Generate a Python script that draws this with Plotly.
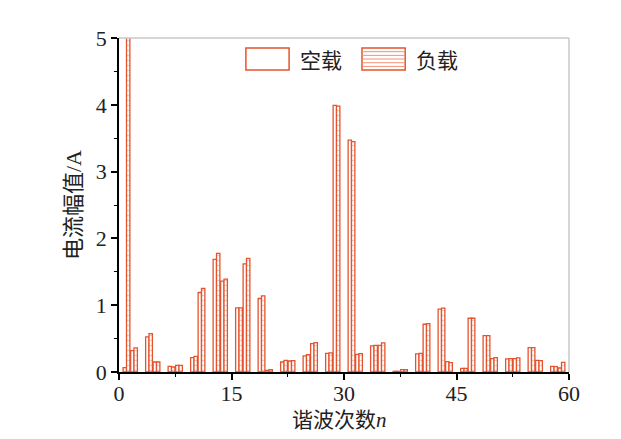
import plotly.graph_objects as go

harmonic_order = [1, 2, 4, 5, 7, 8, 10, 11, 13, 14, 16, 17, 19, 20, 22, 23, 25, 26, 28, 29,
                  31, 32, 34, 35, 37, 38, 40, 41, 43, 44, 46, 47, 49, 50, 52, 53, 55, 56, 58, 59]

no_load = [0.065, 0.32, 0.525, 0.15, 0.085, 0.10, 0.215, 1.19, 1.685, 1.36, 0.96, 1.62, 1.10, 0.025,
           0.15, 0.165, 0.24, 0.425, 0.28, 3.99, 3.47, 0.265, 0.39, 0.40, 0.01, 0.035, 0.27, 0.715,
           0.94, 0.155, 0.055, 0.805, 0.545, 0.20, 0.195, 0.20, 0.365, 0.175, 0.085, 0.06]

with_load = [5.5, 0.36, 0.575, 0.15, 0.075, 0.10, 0.235, 1.25, 1.775, 1.39, 0.96, 1.70, 1.14, 0.035,
             0.175, 0.17, 0.26, 0.44, 0.285, 3.98, 3.45, 0.275, 0.40, 0.435, 0.01, 0.035, 0.28, 0.725,
             0.955, 0.14, 0.055, 0.805, 0.545, 0.215, 0.20, 0.21, 0.365, 0.17, 0.08, 0.145]

series_names = ["空载", "负载"]
x_ticks = [0, 15, 30, 45, 60]
y_ticks = [0, 1, 2, 3, 4, 5]

RED = "#E5532D"
LIGHT = "#F29275"
FONT = "Liberation Serif, Noto Sans CJK SC, serif"
CJK = "Noto Sans CJK SC, sans-serif"
TXT = "#222"

fig = go.Figure()
fig.add_trace(go.Bar(
    x=harmonic_order, y=no_load, name=series_names[0], showlegend=False,
    marker=dict(color="white", line=dict(color=RED, width=1.3)),
))
fig.add_trace(go.Bar(
    x=harmonic_order, y=with_load, name=series_names[1], showlegend=False,
    marker=dict(color="white", line=dict(color=RED, width=1.3),
                pattern=dict(shape="-", fgcolor=LIGHT, bgcolor="white", size=5, solidity=0.25)),
))

# legend drawn as swatches + text (large swatches as in the reference)
shapes = [
    dict(type="line", xref="paper", yref="paper", x0=0, x1=1, y0=1, y1=1,
         line=dict(color="#C8C8C8", width=1.5)),
    dict(type="line", xref="paper", yref="paper", x0=1, x1=1, y0=0, y1=1,
         line=dict(color="#C8C8C8", width=1.5)),
]
sw_y0, sw_y1 = 0.904, 0.970
swatches = [(0.282, 0.378), (0.540, 0.636)]
for i, (x0, x1) in enumerate(swatches):
    shapes.append(dict(type="rect", xref="paper", yref="paper", x0=x0, x1=x1, y0=sw_y0, y1=sw_y1,
                       line=dict(color=RED, width=1.5), fillcolor="white"))
    if i == 1:
        for k in range(1, 6):
            yy = sw_y0 + (sw_y1 - sw_y0) * k / 6
            shapes.append(dict(type="line", xref="paper", yref="paper", x0=x0, x1=x1, y0=yy, y1=yy,
                               line=dict(color=LIGHT, width=1)))

annotations = [
    dict(text=series_names[0], xref="paper", yref="paper", x=0.397, y=0.937,
         xanchor="left", yanchor="middle", showarrow=False, font=dict(family=CJK, size=21, color=TXT)),
    dict(text=series_names[1], xref="paper", yref="paper", x=0.655, y=0.937,
         xanchor="left", yanchor="middle", showarrow=False, font=dict(family=CJK, size=21, color=TXT)),
    dict(text="谐波次数<i>n</i>", xref="paper", yref="paper", x=0.49, y=-0.143,
         xanchor="center", yanchor="middle", showarrow=False, font=dict(family=FONT, size=21, color=TXT)),
]

fig.update_layout(
    width=621, height=439,
    margin=dict(l=111, r=60, t=30, b=75),
    paper_bgcolor="white", plot_bgcolor="white",
    barmode="group", bargap=0.1, bargroupgap=0.0,
    font=dict(family=FONT, size=22, color=TXT),
    showlegend=False,
    xaxis=dict(
        range=[0, 60], tickmode="array", tickvals=x_ticks, ticktext=[str(v) for v in x_ticks],
        showline=True, linecolor="black", linewidth=1.5, showgrid=False, zeroline=False,
        ticks="outside", ticklen=6, tickwidth=1.5, tickcolor="black", ticklabelstandoff=-5,
        minor=dict(ticks="outside", ticklen=3, tickwidth=1.2, tickcolor="black", dtick=7.5, showgrid=False),
        tickfont=dict(family=FONT, size=22, color=TXT),
        automargin=False,
    ),
    yaxis=dict(
        range=[0, 5], tickmode="array", tickvals=y_ticks, ticktext=[str(v) for v in y_ticks],
        showline=True, linecolor="black", linewidth=1.5, showgrid=False, zeroline=False,
        ticks="outside", ticklen=6, tickwidth=1.5, tickcolor="black",
        minor=dict(ticks="outside", ticklen=3, tickwidth=1.2, tickcolor="black", dtick=0.5, showgrid=False),
        tickfont=dict(family=FONT, size=22, color=TXT),
        title=dict(text="电流幅值/A", font=dict(family=FONT, size=22, color=TXT), standoff=8),
    ),
    shapes=shapes,
    annotations=annotations,
)

fig.write_html("out.html")
